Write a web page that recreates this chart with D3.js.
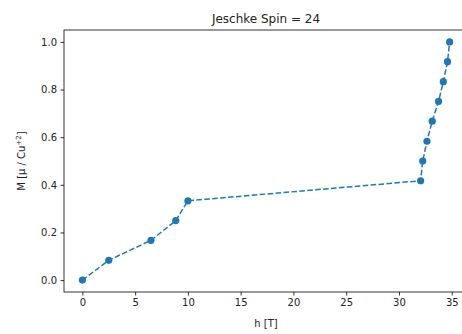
<!DOCTYPE html>
<html>
<head>
<meta charset="utf-8">
<script src="https://cdn.jsdelivr.net/npm/d3@7"></script>
<style>
  html, body { margin: 0; padding: 0; background: #fff; }
  svg { display: block; }
  text { font-family: "DejaVu Sans", sans-serif; fill: #222; }
</style>
</head>
<body>
<script>
// Magnetisation curve: field h [T] against M [µ / Cu+2]
const fieldT = [0, 2.5, 6.5, 8.85, 10.0, 32.05, 32.25, 32.65, 33.15, 33.75, 34.2, 34.6, 34.8];
const magnetisation = [0, 0.083, 0.167, 0.25, 0.333, 0.417, 0.5, 0.583, 0.667, 0.75, 0.833, 0.917, 1.0];
const xTicks = [0, 5, 10, 15, 20, 25, 30, 35];
const yTicks = [0.0, 0.2, 0.4, 0.6, 0.8, 1.0];
const titleText = "Jeschke Spin = 24";

const W = 462, H = 334;
const plot = { left: 64, right: 468, top: 30, bottom: 292 };

const svg = d3.select("body").append("svg").attr("width", W).attr("height", H);

const x = d3.scaleLinear().domain([-1.74, 36.54]).range([plot.left, plot.right]);
const y = d3.scaleLinear().domain([-0.05, 1.05]).range([plot.bottom, plot.top]);

// frame
svg.append("rect")
  .attr("x", plot.left).attr("y", plot.top)
  .attr("width", plot.right - plot.left).attr("height", plot.bottom - plot.top)
  .attr("fill", "none").attr("stroke", "#000").attr("stroke-width", 0.8);

// axes
const xAxis = svg.append("g").attr("transform", `translate(0,${plot.bottom})`)
  .call(d3.axisBottom(x).tickValues(xTicks).tickFormat(d3.format("d")).tickSize(3.5).tickPadding(3.5));
const yAxis = svg.append("g").attr("transform", `translate(${plot.left},0)`)
  .call(d3.axisLeft(y).tickValues(yTicks).tickFormat(d3.format(".1f")).tickSize(3.5).tickPadding(3.5));

[xAxis, yAxis].forEach(g => {
  g.select(".domain").remove();
  g.selectAll(".tick line").attr("stroke", "#000").attr("stroke-width", 0.8);
  g.selectAll(".tick text").attr("font-size", 10).attr("fill", "#222")
    .attr("font-family", "DejaVu Sans, sans-serif");
});

// data line and markers
const pts = fieldT.map((h, i) => [h, magnetisation[i]]);
svg.append("path")
  .datum(pts)
  .attr("d", d3.line().x(d => x(d[0])).y(d => y(d[1])))
  .attr("fill", "none")
  .attr("stroke", "#1f77b4")
  .attr("stroke-width", 1.5)
  .attr("stroke-dasharray", "5.55,2.4");

svg.append("g").selectAll("circle")
  .data(pts)
  .join("circle")
  .attr("cx", d => x(d[0]))
  .attr("cy", d => y(d[1]))
  .attr("r", 3.6)
  .attr("fill", "#1f77b4");

// title and axis labels
svg.append("text")
  .attr("x", (plot.left + plot.right) / 2).attr("y", 23)
  .attr("text-anchor", "middle").attr("font-size", 12)
  .text(titleText);

svg.append("text")
  .attr("x", (plot.left + plot.right) / 2).attr("y", 327)
  .attr("text-anchor", "middle").attr("font-size", 10)
  .text("h [T]");

const yl = svg.append("text")
  .attr("transform", `translate(25,${(plot.top + plot.bottom) / 2}) rotate(-90)`)
  .attr("text-anchor", "middle").attr("font-size", 10);
yl.append("tspan").text("M [μ / Cu");
yl.append("tspan").attr("font-size", 7).attr("dy", -4).text("+2");
yl.append("tspan").attr("dy", 4).text("]");
</script>
</body>
</html>
